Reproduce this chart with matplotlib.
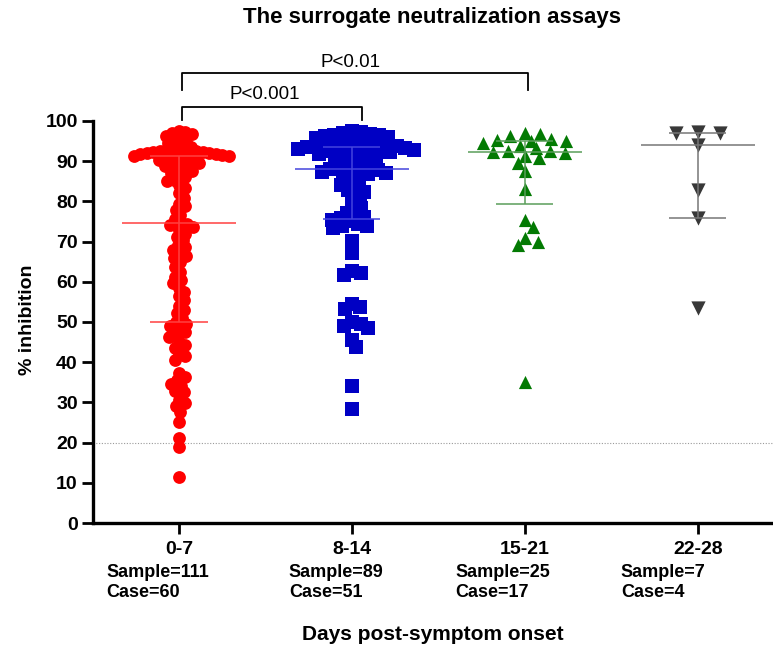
import numpy as np
import matplotlib
matplotlib.use("Agg")
import matplotlib.pyplot as plt

plt.rcParams['font.family'] = ['Liberation Sans', 'DejaVu Sans']
plt.rcParams['font.weight'] = 'bold'

# ---- data ----
groups = ["0-7", "8-14", "15-21", "22-28"]
samples = [111, 89, 25, 7]
cases = [60, 51, 17, 4]

inhib_0_7 = [
    11.5, 19.0, 21.1, 25.2, 27.7, 29.0, 29.8, 30.6, 32.5, 32.9, 34.0, 34.7,
    35.5, 36.3, 37.2, 40.5, 41.5, 42.0, 43.5, 44.3, 45.0, 46.2, 46.8, 47.5,
    48.4, 49.0, 49.6,
    50.1,
    51.0, 52.3, 52.9, 54.0, 55.5, 56.5, 57.5, 58.5, 59.6, 60.5, 61.3, 62.5,
    63.8, 65.0, 65.8, 66.4, 67.0, 67.9, 68.6, 69.2, 70.3, 71.2, 72.0, 72.9,
    73.7, 74.2, 74.5,
    74.7,
    75.5, 76.5, 77.8, 78.8, 79.4, 80.8, 82.0, 83.3, 84.0, 85.0, 85.3, 86.0,
    86.5, 87.0, 87.5, 87.8, 88.3, 88.8, 89.2, 89.5, 89.8, 90.0, 90.3, 90.5,
    90.8, 91.0, 91.1,
    91.3,
    91.4, 91.5, 91.6, 91.7, 91.8, 91.9, 92.0, 92.1, 92.2, 92.3, 92.4, 92.5,
    92.6, 92.8, 93.0, 93.3, 93.6, 94.0, 94.5, 94.9, 95.3, 95.8, 96.3, 96.8,
    97.0, 97.3, 97.5,
]
inhib_8_14 = [
    28.3, 34.1, 43.9, 45.5, 48.5, 49.0, 49.5, 50.0, 53.3, 53.8, 54.5, 61.8,
    62.3, 62.6, 67.2, 70.2, 73.5, 73.9, 74.3, 74.0, 75.0, 75.3, 75.9, 76.1,
    76.4, 77.2, 78.3, 78.7, 80.3, 81.0, 82.4, 82.8, 83.5, 84.1, 84.6, 85.2,
    85.8, 86.3, 86.8, 87.0, 87.2, 87.5, 87.7, 87.9, 88.0, 88.3, 88.6, 89.0,
    89.3, 89.7, 90.1, 90.5, 90.8, 91.2, 91.5, 91.8, 92.0, 92.2, 92.4, 92.6,
    92.8, 92.9, 93.0, 93.1, 93.2, 93.3, 93.4, 93.6, 93.7, 93.8, 93.9, 94.0,
    94.2, 94.4, 94.6, 94.8, 95.0, 95.2, 95.4, 95.6, 95.8, 96.0, 96.2, 96.4,
    96.6, 96.8, 97.0, 97.2, 97.4,
]
inhib_15_21 = [
    96.8, 96.3, 96.9, 95.4, 94.6, 95.1, 95.3, 95.0, 92.6, 93.8, 92.4, 93.2,
    92.1, 92.5, 91.3, 90.7, 89.5, 87.6, 83.1, 75.4, 73.7, 71.0, 70.0, 69.2,
    35.1,
]
inhib_22_28 = [97.1, 96.9, 97.2, 94.0, 82.8, 75.8, 53.6]

data = [inhib_0_7, inhib_8_14, inhib_15_21, inhib_22_28]

colors = ["#ff0000", "#0000c4", "#037a03", "#383838"]
line_colors = ["#ff4040", "#4545dd", "#5a9e5a", "#777777"]
markers = ["o", "s", "^", "v"]
msizes = [85, 90, 90, 105]
# horizontal / vertical clearance (px) for the column scatter of each group
spread_x = [6.5, 9, 15, 22]
spread_y = [7, 7, 8, 10]

# pixel geometry of the axes (used for the swarm spacing)
PX_Y = 4.02   # px per % unit
PX_X = 173.0  # px per group


def swarm(vals, cx, cy):
    vals = np.asarray(vals, dtype=float)
    order = np.argsort(vals)[::-1]
    placed = []
    offs = np.zeros(len(vals))
    cand = [0.0]
    for k in range(1, 300):
        cand += [k * 0.5, -k * 0.5]
    for i in order:
        y = vals[i] * PX_Y
        near = [(px, py) for px, py in placed if abs(py - y) < cy]
        for c in cand:
            if all(((c - px) / cx) ** 2 + ((y - py) / cy) ** 2 >= 1 for px, py in near):
                break
        placed.append((c, y))
        offs[i] = c / PX_X
    return offs


fig = plt.figure(figsize=(7.73, 6.47), dpi=100)
ax = fig.add_axes([93 / 773, 1 - 523 / 647, 1 - 93 / 773, 402 / 647])

for i, vals in enumerate(data):
    offs = swarm(vals, spread_x[i], spread_y[i])
    ax.scatter(i + offs, vals, s=msizes[i], marker=markers[i], color=colors[i],
               linewidths=0, zorder=2, clip_on=False)
    q1, med, q3 = np.percentile(vals, [25, 50, 75], method="weibull")
    ax.hlines(med, i - 0.33, i + 0.33, color=line_colors[i], lw=1.1, zorder=3)
    ax.hlines([q1, q3], i - 0.165, i + 0.165, color=line_colors[i], lw=1.1, zorder=3)
    ax.vlines(i, q1, q3, color=line_colors[i], lw=1.1, zorder=3)

ax.axhline(20, color="#9a9a9a", lw=0.8, ls=(0, (1, 1.5)), zorder=1)

ax.set_xlim(-0.497, 3.434)
ax.set_ylim(0, 100)
ax.set_yticks(range(0, 101, 10))
ax.set_xticks(range(len(groups)), groups)
ax.tick_params(axis="both", width=2, length=8, labelsize=14)
ax.tick_params(axis="y", pad=3)
ax.tick_params(axis="x", pad=5)
for side in ["top", "right"]:
    ax.spines[side].set_visible(False)
for side in ["left", "bottom"]:
    ax.spines[side].set_linewidth(2.4)

# significance brackets
ax.plot([0.016, 0.016, 1.06, 1.06], [100.3, 103.6, 103.6, 100.3], color="black",
        lw=1.3, clip_on=False)
ax.plot([0.016, 0.016, 2.02, 2.02], [107.7, 111.9, 111.9, 107.7], color="black",
        lw=1.3, clip_on=False)
ax.text(0.497, 106.6, "P<0.001", ha="center", va="center", fontsize=13.5,
        fontweight="normal")
ax.text(0.99, 114.5, "P<0.01", ha="center", va="center", fontsize=13.5,
        fontweight="normal")

# sample / case counts under each group
text_x = [-0.42, 0.635, 1.60, 2.555]
for i in range(len(groups)):
    ax.text(text_x[i], -12.2, f"Sample={samples[i]}", ha="left", va="center",
            fontsize=13, clip_on=False)
    ax.text(text_x[i], -17.2, f"Case={cases[i]}", ha="left", va="center",
            fontsize=13, clip_on=False)

fig.text(28 / 773, 1 - 320 / 647, "% inhibition", rotation=90, ha="center",
         va="center", fontsize=14)
fig.text(433 / 773, 1 - 635 / 647, "Days post-symptom onset", ha="center",
         va="center", fontsize=15)
fig.text(432 / 773, 1 - 18 / 647, "The surrogate neutralization assays",
         ha="center", va="center", fontsize=16)

fig.savefig("out.png", dpi=100)
